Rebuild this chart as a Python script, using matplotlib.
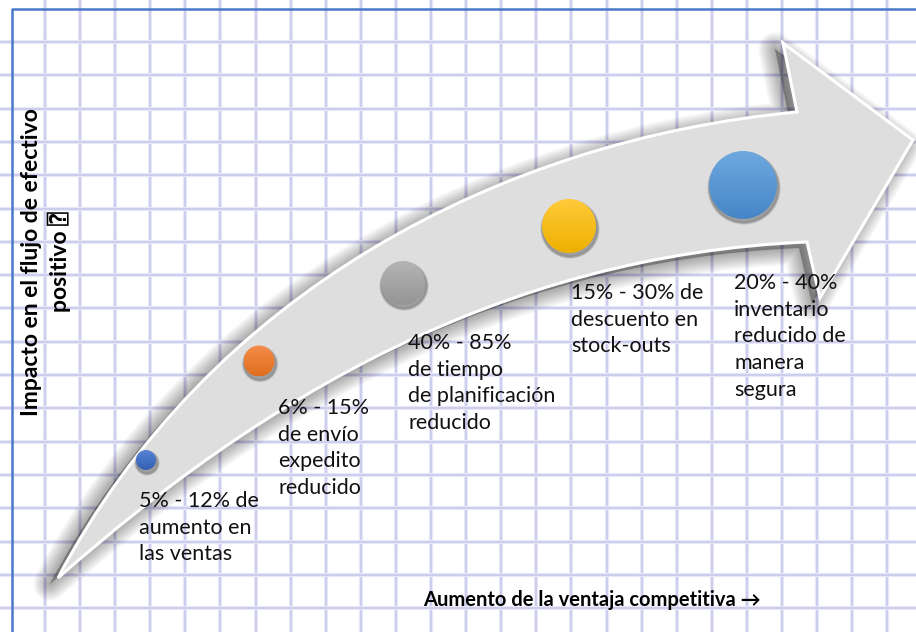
import numpy as np
import matplotlib.pyplot as plt
from matplotlib.path import Path
from matplotlib.patches import PathPatch, Circle
from matplotlib.colors import LinearSegmentedColormap

# stages along the arrow (position in picture units, y grows downwards)
labels = ["5% - 12% de\naumento en\nlas ventas",
          "6% - 15%\nde envío\nexpedito\nreducido",
          "40% - 85%\nde tiempo\nde planificación\nreducido",
          "15% - 30% de\ndescuento en\nstock-outs",
          "20% - 40%\ninventario\nreducido de\nmanera\nsegura"]
pos_x = [146, 259, 403, 569, 743]
pos_y = [460, 361, 283, 226, 185]
radius = [10, 15.5, 22, 27, 34]
top_colors = ["#5682d6", "#f48c4a", "#b4b4b4", "#ffca3a", "#6ea8de"]
bottom_colors = ["#3460b4", "#e06e1e", "#959595", "#eeb000", "#4686c8"]
label_x = [139, 278, 408, 571, 734]
label_y = [491, 398, 333, 283, 273]

x_title = "Aumento de la ventaja competitiva →"
y_title = "Impacto en el flujo de efectivo\npositivo ⍰"

W, H = 916, 632
fig = plt.figure(figsize=(W / 100, H / 100), dpi=100)
ax = fig.add_axes([0, 0, 1, 1])
ax.set_facecolor("#fdfdfa")
fig.patch.set_facecolor("white")

# graph paper grid
for gx in np.arange(45, W, 35.1):
    ax.axvline(gx, color="#e8e8f8", lw=3, zorder=0)
    ax.axvline(gx, color="#c6c6ec", lw=1.1, zorder=0)
for gy in np.arange(42, H, 33.3):
    ax.axhline(gy, color="#e8e8f8", lw=3, zorder=0)
    ax.axhline(gy, color="#c6c6ec", lw=1.1, zorder=0)
ax.plot([12, 12, W], [H, 9, 9], color="#4a78c8", lw=1.8, zorder=1)

# curved arrow
verts = [(58, 578), (208, 293), (500, 140), (797, 112),
         (783, 43), (913, 140), (820, 298), (807, 242),
         (500, 255), (260, 400), (58, 578), (58, 578)]
codes = [Path.MOVETO, Path.CURVE4, Path.CURVE4, Path.CURVE4,
         Path.LINETO, Path.LINETO, Path.LINETO, Path.LINETO,
         Path.CURVE4, Path.CURVE4, Path.CURVE4, Path.CLOSEPOLY]
arrow = Path(verts, codes)

# soft shadow
shadow = Path(np.array(verts) + np.array([-8, 6]), codes)
for lw in np.linspace(24, 1, 12):
    ax.add_patch(PathPatch(shadow, facecolor="none", edgecolor="black",
                           lw=lw, alpha=0.03, joinstyle="round", zorder=2))
ax.add_patch(PathPatch(shadow, facecolor="black", edgecolor="none", alpha=0.3, zorder=2))

body = PathPatch(arrow, facecolor="#dedede", edgecolor="white", lw=2.2, zorder=3)
ax.add_patch(body)

# circles
for x, y, r, c1, c2 in zip(pos_x, pos_y, radius, top_colors, bottom_colors):
    for k in range(4):
        ax.add_patch(Circle((x + 1, y + 3), r + 2 - k * 0.7, color="black",
                            alpha=0.08, zorder=4))
    circ = Circle((x, y), r, facecolor="none", edgecolor="none", zorder=5)
    ax.add_patch(circ)
    cmap = LinearSegmentedColormap.from_list("g", [c1, c2])
    im = ax.imshow(np.linspace(0, 1, 64).reshape(-1, 1), cmap=cmap,
                   extent=[x - r, x + r, y + r, y - r], aspect="auto", zorder=5)
    im.set_clip_path(circ)

fam = ["Lato", "DejaVu Sans", "DejaVu Sans Mono"]
for txt, lx, ly in zip(labels, label_x, label_y):
    ax.text(lx, ly, txt, fontsize=15.5, family=fam, color="#111111",
            ha="left", va="top", linespacing=1.42, zorder=6)

ax.text(592, 600, x_title, fontsize=14.5, fontweight="bold", family=fam,
        ha="center", va="center", zorder=6)
ax.text(46, 262, y_title, fontsize=16.5, fontweight="bold", family=fam,
        rotation=90, ha="center", va="center", multialignment="center",
        linespacing=1.3, zorder=6)

ax.set_xlim(0, W)
ax.set_ylim(H, 0)
ax.axis("off")
fig.savefig("out.png", dpi=100)
